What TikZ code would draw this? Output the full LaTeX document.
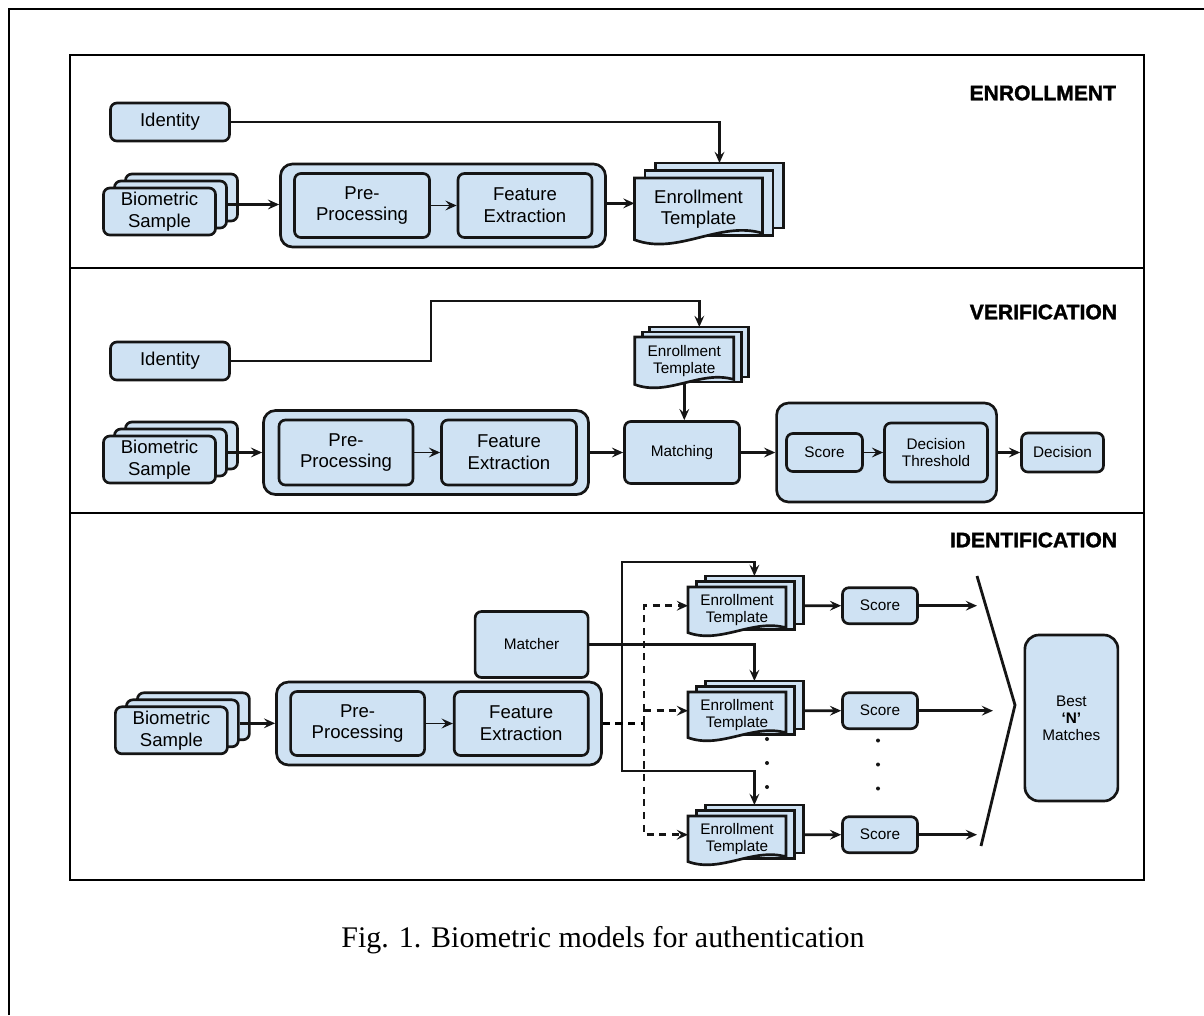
\documentclass[tikz,border=0pt]{standalone}
\usepackage{fontspec}
\setmainfont{Liberation Sans}
\newfontfamily\captionserif{Liberation Serif}
\newfontfamily\headfont{Liberation Sans Bold}[FakeBold=1.6]
\usetikzlibrary{arrows.meta,calc}
\definecolor{BoxFill}{HTML}{CFE2F3}
\definecolor{Ink}{HTML}{151515}
\newcommand\pxu{0.025cm}

\begin{document}
\begin{tikzpicture}[
    x=0.025cm, y=-0.025cm,
    font=\fontsize{13.2}{15.5}\selectfont,
    block/.style={draw=Ink, fill=BoxFill, line width=1.9pt,
                  rounded corners=0.16cm, align=center, inner sep=0pt},
    groupbox/.style={block, rounded corners=0.3cm},
    smalltext/.style={font=\fontsize{10.9}{12}\selectfont},
    boxsize/.style 2 args={minimum width=#1*\pxu, minimum height=#2*\pxu},
    flow/.style={-{Stealth[length=8pt,width=7pt,inset=3pt]}, line width=2pt,
                 draw=Ink},
    thinflow/.style={flow, line width=1.2pt},
    dflow/.style={flow, dash pattern=on 5pt off 4pt},
    heading/.style={anchor=east, font=\fontsize{15}{18}\selectfont\headfont},
    pics/sample/.style={code={
        \foreach \k in {2,1}
            \node[block, boxsize={112}{47}] (-\k) at (11*\k,-7*\k) {};
        \node[block, boxsize={112}{47}] (-0) at (0,0) {Biometric\\Sample};
    }},
    pics/tmpl/.style n args={4}{code={
        \foreach \k in {2,1}
            \draw[line width=1.9pt, draw=Ink, fill=BoxFill]
                (-#1/2+\k*#3,-#2/2-\k*#4) rectangle (#1/2+\k*#3,#2/2-\k*#4);
        \draw[line width=1.9pt, draw=Ink, fill=BoxFill]
            (-#1/2,-#2/2) -- (#1/2,-#2/2) -- (#1/2,0.35*#2)
            .. controls (#1/6,0.15*#2) and (-#1/6,0.7*#2) .. (-#1/2,0.45*#2) -- cycle;
        \node[align=center, inner sep=0pt] (-t) at (0,-0.02*#2) {Enrollment\\Template};
        \coordinate (-top) at (2*#3,-#2/2-2*#4);
        \coordinate (-w) at (-#1/2,-0.11*#2);
        \coordinate (-e) at (#1/2+2*#3,-0.11*#2);
        \coordinate (-s) at (0,0.42*#2);
    }}
]
\useasboundingbox (0,0) rectangle (1204,1015);

% Frames
\draw[line width=1.6pt] (9,1015) -- (9,9) -- (1204,9);
\draw[line width=0.9pt] (70,55) rectangle (1144,880);
\draw[line width=1.2pt] (70,268) -- (1144,268);
\draw[line width=1.2pt] (70,513) -- (1144,513);

% Enrollment
\node[heading] (hE) at (1121,93) {ENROLLMENT};
\node[block, boxsize={119}{38}] (idE) at (170,122) {Identity};
\pic (bsE) at (159.5,211.5) {sample};
\node[groupbox, boxsize={325}{83}] (cE) at (443,205.5) {};
\node[block, boxsize={135}{64}] (pE) at (362,205.5) {Pre-\\Processing};
\node[block, boxsize={134}{64}] (fE) at (525,205.5) {Feature\\Extraction};
\pic (tE) at (698.5,210.5) {tmpl={128}{65}{10.5}{7.5}};
\draw[flow] (bsE-1.east) -- (cE.west |- bsE-1.east);
\draw[thinflow] (pE) -- (fE);
\draw[flow] (cE.east |- tE-w) -- (tE-w);
\draw[flow] (idE.east) -| (tE-top);

% Verification
\node[heading] (hV) at (1122,312) {VERIFICATION};
\node[block, boxsize={119}{38}] (idV) at (170,361) {Identity};
\pic (bsV) at (159.5,459.5) {sample};
\node[groupbox, boxsize={325}{84}] (cV) at (426,452.5) {};
\node[block, boxsize={134}{65}] (pV) at (346,452.5) {Pre-\\Processing};
\node[block, boxsize={135}{65}] (fV) at (509,452.5) {Feature\\Extraction};
\pic[smalltext] (tV) at (684.3,362) {tmpl={99}{50}{7.5}{5}};
\node[block, smalltext, boxsize={115}{62}] (mV) at (682,452.5) {Matching};
\node[groupbox, boxsize={220}{99}] (gV) at (886.6,452.5) {};
\node[block, smalltext, boxsize={76}{38}] (sV) at (824.5,452.5) {Score};
\node[block, smalltext, boxsize={103}{59}] (dtV) at (936,452.5) {Decision\\Threshold};
\node[block, smalltext, boxsize={82}{39}] (dV) at (1062.5,452.5) {Decision};
\coordinate (vbend) at (431,301);
\draw[flow] (idV.east) -| (vbend) -| (tV-top);
\draw[flow] (bsV-1.east) -- (cV.west |- bsV-1.east);
\draw[thinflow] (pV) -- (fV);
\draw[flow] (cV) -- (mV);
\draw[flow] (tV-s) -- (tV-s |- mV.north);
\draw[flow] (mV) -- (gV);
\draw[thinflow] (sV) -- (dtV);
\draw[flow] (gV) -- (dV);

% Identification
\node[heading] (hI) at (1122,540) {IDENTIFICATION};
\pic (bsI) at (171.4,730.3) {sample};
\node[groupbox, boxsize={325}{83}] (cI) at (439,723.5) {};
\node[block, boxsize={134}{64}] (pI) at (357.6,723.5) {Pre-\\Processing};
\node[block, boxsize={134}{64}] (fI) at (521.2,723.5) {Feature\\Extraction};
\node[block, smalltext, boxsize={113}{66}] (mI) at (531.6,644.5) {Matcher};
\pic[smalltext] (tI1) at (737,611) {tmpl={98}{48}{8.7}{5.5}};
\pic[smalltext] (tI2) at (737,716) {tmpl={98}{48}{8.7}{5.5}};
\pic[smalltext] (tI3) at (737,840) {tmpl={98}{48}{8.7}{5.5}};
\node[block, smalltext, boxsize={75}{36}] (sI1) at (880,605.7) {Score};
\node[block, smalltext, boxsize={75}{36}] (sI2) at (880,710.7) {Score};
\node[block, smalltext, boxsize={75}{36}] (sI3) at (880,834.7) {Score};
\node[block, smalltext, boxsize={93}{166}, rounded corners=0.35cm] (best)
    at (1071.4,718) {Best\\\textbf{‘N’}\\Matches};
\draw[flow] (bsI-1.east) -- (cI.west |- bsI-1.east);
\draw[thinflow] (pI) -- (fI);

% matcher feeds every template
\coordinate (msplit) at (622,644.5);
\coordinate (mtop) at (622,562);
\coordinate (mbot) at (622,771);
\draw[flow] (mI.east) -| (tI2-top);
\draw[flow] (msplit) -- (mtop) -| (tI1-top);
\draw[flow] (msplit) -- (mbot) -| (tI3-top);

% extracted features compared against every template
\coordinate (dsplit) at (644,723.5);
\draw[line width=2pt, dash pattern=on 5pt off 4pt] (cI.east) -- (dsplit);
\draw[dflow] (dsplit) |- (tI1-w);
\draw[dflow] (dsplit) |- (tI2-w);
\draw[dflow] (dsplit) |- (tI3-w);

\draw[flow] (tI1-e) -- (sI1.west);
\draw[flow] (tI2-e) -- (sI2.west);
\draw[flow] (tI3-e) -- (sI3.west);

% best-N selector
\coordinate (bk1) at (977,576);
\coordinate (bk2) at (1015,705);
\coordinate (bk3) at (981,846);
\draw[line width=2pt, draw=Ink] (bk1) -- (bk2) -- (bk3);
\coordinate (o1) at (977,605.7);
\coordinate (o2) at (993,710.7);
\coordinate (o3) at (977,834.7);
\draw[flow] (sI1.east) -- (o1);
\draw[flow] (sI2.east) -- (o2);
\draw[flow] (sI3.east) -- (o3);

\foreach \y in {739,763,787} {
    \fill[Ink] (767,\y) circle (2);
    \fill[Ink] (878,\y+1.5) circle (2);
}

% Caption
\node[font=\captionserif\fontsize{21.3}{25}\selectfont] (cap) at (603,940)
    {Fig. 1. Biometric models for authentication};

\end{tikzpicture}
\end{document}
